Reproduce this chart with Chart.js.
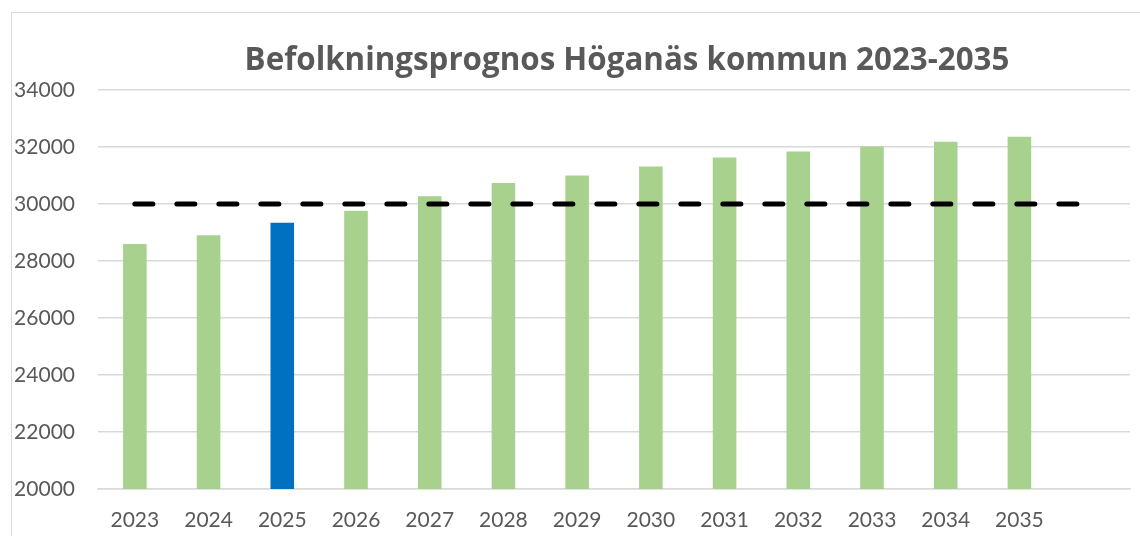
<!DOCTYPE html>
<html>
<head>
<meta charset="utf-8">
<script src="https://cdn.jsdelivr.net/npm/chart.js@4.4.1/dist/chart.umd.min.js"></script>
<style>
  html, body { margin: 0; padding: 0; background: #fff; overflow: hidden; }
  #wrap { position: relative; width: 1140px; height: 536px; overflow: hidden; }
  #frame { position: absolute; left: 11px; top: 12px; width: 1300px; height: 700px; border: 1px solid #D9D9D9; box-sizing: border-box; }
  #title { position: absolute; left: 0; top: 43px; width: 1254px; text-align: center;
           font-family: "Open Sans", Lato, "Liberation Sans", sans-serif; font-weight: bold; font-size: 30px;
           line-height: 30px; color: #595959; white-space: nowrap; }
  #c { position: absolute; left: 0; top: 0; }
</style>
</head>
<body>
<div id="wrap">
  <div id="frame"></div>
  <canvas id="c" width="1140" height="536"></canvas>
  <div id="title"><span id="titleText">Befolkningsprognos Höganäs kommun 2023-2035</span></div>
</div>
<script>
const categories = ['2023','2024','2025','2026','2027','2028','2029','2030','2031','2032','2033','2034','2035',''];
const population = [28600, 28900, 29340, 29760, 30270, 30740, 31000, 31320, 31630, 31840, 32020, 32180, 32360, null];
const referenceLine = [30000, 30000, 30000, 30000, 30000, 30000, 30000, 30000, 30000, 30000, 30000, 30000, 30000, 30000];
const yTicks = [20000, 22000, 24000, 26000, 28000, 30000, 32000, 34000];
const highlightYear = '2025';

const GREEN = '#A9D18E';
const BLUE = '#0070C0';
const barColors = categories.map(c => c === highlightYear ? BLUE : GREEN);

const tickFont = { family: 'Lato, "Liberation Sans", sans-serif', size: 21 };

// fit title width to the reference title width
(function fitTitle() {
  const span = document.getElementById('titleText');
  const el = document.getElementById('title');
  const target = 765;
  const w = span.getBoundingClientRect().width;
  if (w > 0) {
    const size = 30 * target / w;
    el.style.fontSize = size.toFixed(2) + 'px';
    el.style.lineHeight = size.toFixed(2) + 'px';
  }
})();

new Chart(document.getElementById('c'), {
  data: {
    labels: categories,
    datasets: [
      {
        type: 'line',
        data: referenceLine,
        borderColor: '#000000',
        borderWidth: 5,
        borderDash: [18, 24],
        borderCapStyle: 'round',
        pointRadius: 0,
        fill: false,
        order: 0
      },
      {
        type: 'bar',
        data: population,
        backgroundColor: barColors,
        borderWidth: 0,
        categoryPercentage: 0.32,
        barPercentage: 1,
        order: 1
      }
    ]
  },
  options: {
    responsive: false,
    animation: false,
    layout: { padding: { top: 90, right: 10, left: 0, bottom: 0 } },
    plugins: { legend: { display: false }, title: { display: false }, tooltip: { enabled: false } },
    scales: {
      x: {
        grid: { display: false, drawTicks: false },
        border: { display: true, color: '#D9D9D9', width: 1.5 },
        ticks: { color: '#595959', font: tickFont, padding: 19, maxRotation: 0, autoSkip: false },
        afterFit: (s) => { s.height = 47; }
      },
      y: {
        min: 20000,
        max: 34000,
        afterBuildTicks: (s) => { s.ticks = yTicks.map(v => ({ value: v })); },
        grid: { color: '#D9D9D9', lineWidth: 1.5, drawTicks: false },
        border: { display: false },
        ticks: { color: '#595959', font: tickFont, padding: 23, callback: (v) => String(v) },
        afterFit: (s) => { s.width = 98; }
      }
    }
  }
});
</script>
</body>
</html>
